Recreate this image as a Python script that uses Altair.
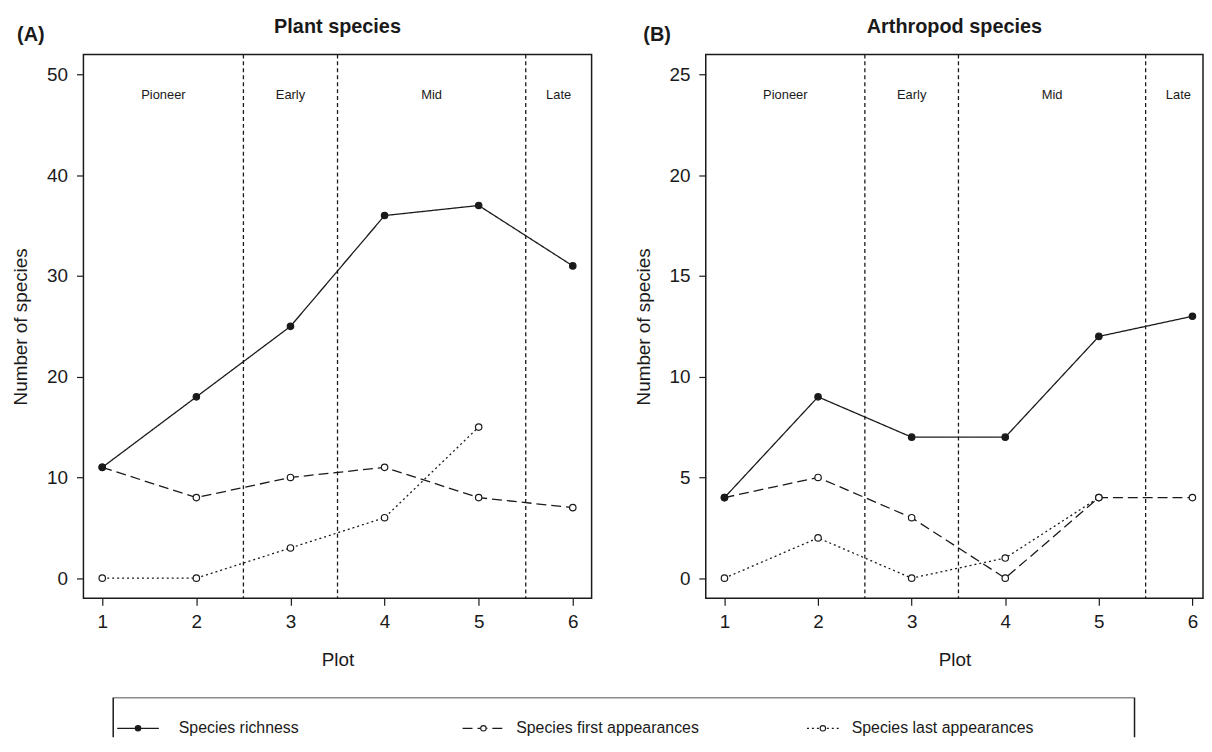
import altair as alt
import pandas as pd

# ---------------- data ----------------
plots = [1, 2, 3, 4, 5, 6]
plant_richness = [11, 18, 25, 36, 37, 31]
plant_first = [11, 8, 10, 11, 8, 7]
plant_last = [0, 0, 3, 6, 15]
arth_richness = [4, 9, 7, 7, 12, 13]
arth_first = [4, 5, 3, 0, 4, 4]
arth_last = [0, 2, 0, 1, 4]

series_names = ["Species first appearances", "Species last appearances", "Species richness"]
legend_order = ["Species richness", "Species first appearances", "Species last appearances"]

stage_names = ["Pioneer", "Early", "Mid", "Late"]
stage_centers = [1.65, 3.0, 4.5, 5.85]
stage_bounds = [2.5, 3.5, 5.5]

INK = "#1a1a1a"
FONT = "Liberation Sans"


def long_df(rich, first, last):
    rows = []
    for p, v in zip(plots, first):
        rows.append({"plot": p, "value": v, "series": series_names[0]})
    for p, v in zip(plots, last):
        rows.append({"plot": p, "value": v, "series": series_names[1]})
    for p, v in zip(plots, rich):
        rows.append({"plot": p, "value": v, "series": series_names[2]})
    return pd.DataFrame(rows)


dash_scale = alt.Scale(domain=series_names, range=[[10, 5], [2, 3], [1, 0]])
fill_scale = alt.Scale(domain=series_names, range=["white", "white", INK])


def panel(df, title, tag, ymax, ystep, xmax, width, tag_dx):
    xs = alt.Scale(domain=[0.8, xmax], nice=False, zero=False)
    ys = alt.Scale(domain=[-ymax * 0.04, ymax * 1.04], nice=False, zero=False)
    xax = alt.Axis(values=plots, title="Plot", format="d")
    yax = alt.Axis(values=list(range(0, ymax + 1, ystep)), title="Number of species", format="d")

    base = alt.Chart(df)
    lines = base.mark_line(color=INK, strokeWidth=1.3).encode(
        x=alt.X("plot:Q", scale=xs, axis=xax),
        y=alt.Y("value:Q", scale=ys, axis=yax),
        strokeDash=alt.StrokeDash("series:N", scale=dash_scale, legend=None),
    )
    pts = base.mark_point(shape="circle", filled=True, size=42, stroke=INK,
                          strokeWidth=1.2, opacity=1).encode(
        x=alt.X("plot:Q", scale=xs, axis=xax),
        y=alt.Y("value:Q", scale=ys, axis=yax),
        fill=alt.Fill("series:N", scale=fill_scale, legend=None),
    )
    rules = alt.Chart(pd.DataFrame({"b": stage_bounds})).mark_rule(
        color=INK, strokeDash=[4, 3], strokeWidth=1.3
    ).encode(x=alt.X("b:Q", scale=xs, axis=xax))
    labels = alt.Chart(pd.DataFrame({"stage": stage_names, "cx": stage_centers})).mark_text(
        fontSize=13, color=INK, font=FONT
    ).encode(
        x=alt.X("cx:Q", scale=xs, axis=xax),
        y=alt.datum(ymax * 0.96, scale=ys),
        text="stage:N",
    )
    tagmark = alt.Chart(pd.DataFrame({"t": [tag]})).mark_text(
        fontSize=20, fontWeight="bold", color=INK, font=FONT, align="center", baseline="middle"
    ).encode(x=alt.value(tag_dx), y=alt.value(-20), text="t:N")

    return alt.layer(rules, labels, lines, pts, tagmark).properties(
        width=width,
        height=548,
        title=alt.TitleParams(title, fontSize=20, fontWeight="bold", font=FONT,
                              color=INK, anchor="middle", offset=-12),
    )


A = panel(long_df(plant_richness, plant_first, plant_last), "Plant species", "(A)",
          50, 10, 6.2, 512, -53)
B = panel(long_df(arth_richness, arth_first, arth_last), "Arthropod species", "(B)",
          25, 5, 6.113, 501, -49)

top = alt.hconcat(A, B, spacing=41)

# ---------------- legend box ----------------
LEFT0 = 84  # page x of the legend chart origin
dummy = pd.DataFrame({"a": [0]})
leg_dash = {"Species richness": [1, 0], "Species first appearances": [10, 5],
            "Species last appearances": [2, 3]}
leg_fill = {"Species richness": INK, "Species first appearances": "white",
            "Species last appearances": "white"}
leg_sym = [(118, 160), (466, 508), (813, 845)]
leg_txt = [180, 520, 858]
TY = 31
LEG_H = 40

leg_layers = [
    alt.Chart(dummy).mark_rect(fillOpacity=0, stroke=INK, strokeWidth=1.5, clip=True).encode(
        x=alt.value(114 - LEFT0), x2=alt.value(1143 - LEFT0), y=alt.value(0), y2=alt.value(70)
    )
]
for name, (s0, s1), tx in zip(legend_order, leg_sym, leg_txt):
    leg_layers.append(
        alt.Chart(dummy).mark_rule(color=INK, strokeWidth=1.3, strokeDash=leg_dash[name]).encode(
            x=alt.value(s0 - LEFT0), x2=alt.value(s1 - LEFT0), y=alt.value(TY)
        )
    )
    leg_layers.append(
        alt.Chart(dummy).mark_point(shape="circle", filled=True, size=30, stroke=INK,
                                    strokeWidth=1.1, fill=leg_fill[name], opacity=1).encode(
            x=alt.value((s0 + s1) / 2 - LEFT0), y=alt.value(TY)
        )
    )
    leg_layers.append(
        alt.Chart(pd.DataFrame({"t": [name]})).mark_text(
            fontSize=16, font=FONT, color=INK, align="left", baseline="middle"
        ).encode(x=alt.value(tx - LEFT0), y=alt.value(TY), text="t:N")
    )

legend = alt.layer(*leg_layers).properties(
    width=1100, height=LEG_H, view=alt.ViewBackground(strokeOpacity=0)
)

chart = alt.vconcat(top, legend, spacing=27).properties(
    padding={"left": 3, "top": 5, "right": 0, "bottom": 0}
).configure_view(
    stroke=INK, strokeWidth=1.5
).configure_axis(
    domain=False, grid=False, tickColor=INK, tickSize=7, tickWidth=1.2,
    labelFont=FONT, labelFontSize=19, labelColor=INK,
    titleFont=FONT, titleFontSize=19, titleFontWeight="normal", titleColor=INK,
).configure_axisX(
    labelPadding=7, titlePadding=20
).configure_axisY(
    labelPadding=9, titlePadding=16
)

chart.save("out.html", embed_options={"renderer": "svg", "actions": False})
